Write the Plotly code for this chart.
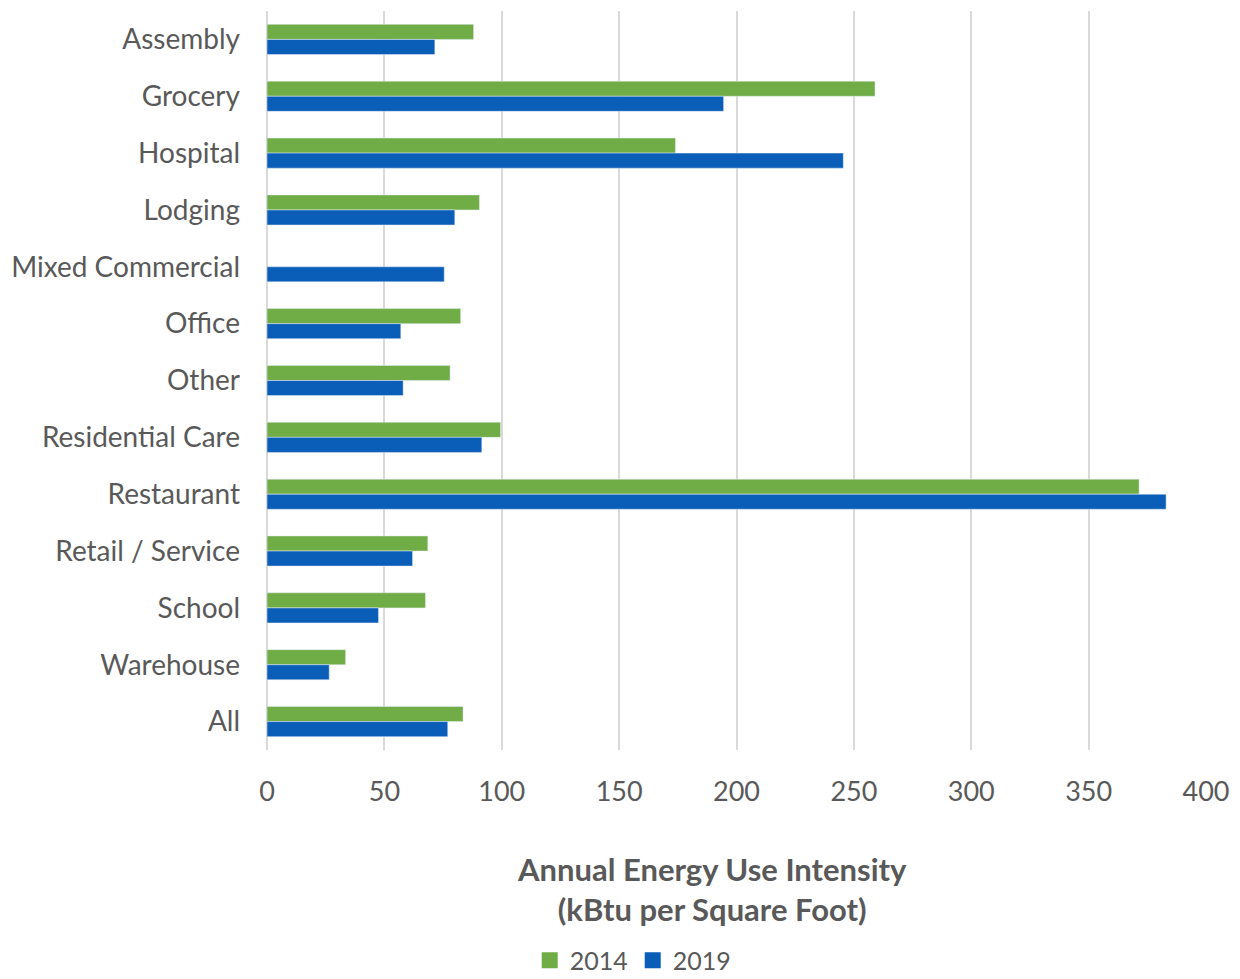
import plotly.graph_objects as go

categories = ["Assembly", "Grocery", "Hospital", "Lodging", "Mixed Commercial", "Office",
              "Other", "Residential Care", "Restaurant", "Retail / Service", "School",
              "Warehouse", "All"]
eui_2014 = [88, 259, 174, 90.5, None, 82.5, 78, 99.5, 371.5, 68.5, 67.5, 33.5, 83.5]
eui_2019 = [71.5, 194.5, 245.5, 80, 75.5, 57, 58, 91.5, 383, 62, 47.5, 26.5, 77]
x_ticks = [0, 50, 100, 150, 200, 250, 300, 350, 400]

FONT = "Lato, 'Open Sans', sans-serif"
GRAY = "#595959"
GREEN = "#70AD47"
BLUE = "#0A5EB8"

fig = go.Figure()
fig.add_trace(go.Bar(y=categories, x=eui_2014, name="2014", orientation="h",
                     marker=dict(color=GREEN), showlegend=False))
fig.add_trace(go.Bar(y=categories, x=eui_2019, name="2019", orientation="h",
                     marker=dict(color=BLUE), showlegend=False))
# legend entries with square swatches
fig.add_trace(go.Scatter(x=[None], y=[None], mode="markers", name="2014",
                         marker=dict(symbol="square", size=17, color=GREEN)))
fig.add_trace(go.Scatter(x=[None], y=[None], mode="markers", name="2019",
                         marker=dict(symbol="square", size=17, color=BLUE)))

fig.update_layout(
    width=1240, height=979,
    margin=dict(l=263, r=31, t=11, b=229),
    paper_bgcolor="white", plot_bgcolor="white",
    barmode="group", bargap=0.47, bargroupgap=0,
    font=dict(family=FONT, color=GRAY, size=28),
    showlegend=True,
    legend=dict(orientation="h", xref="paper", x=0.39, xanchor="center",
                yref="container", y=0.019, yanchor="middle",
                font=dict(size=25, color=GRAY), itemwidth=30, traceorder="normal",
                tracegroupgap=0),
    xaxis=dict(range=[0, 400], tickvals=x_ticks, showgrid=True, gridcolor="#D9D9D9",
               gridwidth=2, zeroline=True, zerolinecolor="#D9D9D9", zerolinewidth=2,
               showline=False, ticks="", tickfont=dict(size=27, color=GRAY),
               ticklabelstandoff=23),
    yaxis=dict(autorange="reversed", showgrid=False, showline=False, ticks="",
               tickfont=dict(size=28, color=GRAY), ticklabelstandoff=26),
    annotations=[dict(text="<b>Annual Energy Use Intensity<br>(kBtu per Square Foot)</b>",
                      xref="paper", yref="paper", x=0.4735, y=-0.188,
                      xanchor="center", yanchor="middle", showarrow=False,
                      font=dict(size=31, color=GRAY, family=FONT))],
)

fig.write_html("out.html")
